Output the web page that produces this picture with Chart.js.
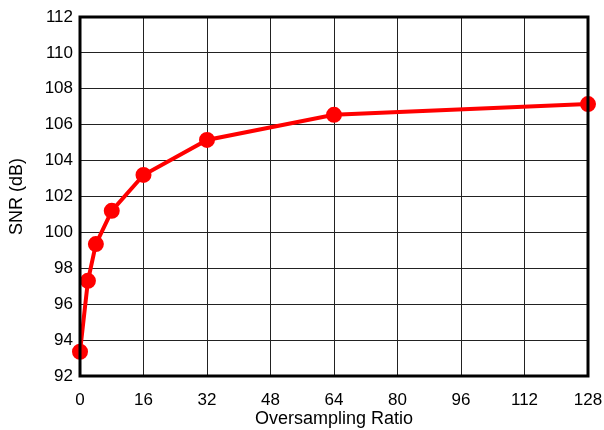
<!DOCTYPE html>
<html>
<head>
<meta charset="utf-8">
<script src="https://cdn.jsdelivr.net/npm/chart.js@4/dist/chart.umd.min.js"></script>
<style>
html,body{margin:0;padding:0;background:#fff;}
#wrap{width:604px;height:430px;position:relative;}
</style>
</head>
<body>
<div id="wrap"><canvas id="c"></canvas></div>
<script>
const ratios = [0, 2, 4, 8, 16, 32, 64, 128];
const snrValues = [93.35, 97.3, 99.35, 101.2, 103.2, 105.15, 106.55, 107.15];
const xTicks = [0, 16, 32, 48, 64, 80, 96, 112, 128];
const yTicks = [92, 94, 96, 98, 100, 102, 104, 106, 108, 110, 112];

const frame = {
  id: 'frame',
  afterDraw(chart) {
    const a = chart.chartArea, ctx = chart.ctx;
    ctx.save();
    ctx.strokeStyle = '#000';
    ctx.lineWidth = 3;
    ctx.strokeRect(a.left, a.top, a.right - a.left, a.bottom - a.top);
    ctx.restore();
  }
};

const tickFont = {family: 'Liberation Sans, Arial', size: 17};
const titleFont = {family: 'Liberation Sans, Arial', size: 18};

new Chart(document.getElementById('c'), {
  type: 'line',
  data: {
    datasets: [{
      data: ratios.map((r, i) => ({x: r, y: snrValues[i]})),
      borderColor: '#ff0000',
      backgroundColor: '#ff0000',
      borderWidth: 4,
      pointRadius: 6,
      pointHoverRadius: 6,
      tension: 0,
      clip: false
    }]
  },
  options: {
    responsive: true,
    maintainAspectRatio: false,
    animation: false,
    layout: {padding: {top: 17, right: 16, left: 0, bottom: 0}},
    plugins: {legend: {display: false}, tooltip: {enabled: false}},
    scales: {
      x: {
        type: 'linear', min: 0, max: 128,
        afterBuildTicks(s) { s.ticks = xTicks.map(v => ({value: v})); },
        afterFit(s) { s.height = 54; s.paddingLeft = 0; s.paddingRight = 0; },
        grid: {color: '#222', lineWidth: 1, drawTicks: false},
        border: {display: false},
        ticks: {color: '#000', font: tickFont, padding: 14, maxRotation: 0, autoSkip: false},
        title: {display: true, text: 'Oversampling Ratio', color: '#000', font: titleFont, padding: {top: 2, bottom: 0}}
      },
      y: {
        type: 'linear', min: 92, max: 112,
        afterBuildTicks(s) { s.ticks = yTicks.map(v => ({value: v})); },
        afterFit(s) { s.width = 80; s.paddingTop = 0; s.paddingBottom = 0; },
        grid: {color: '#222', lineWidth: 1, drawTicks: false},
        border: {display: false},
        ticks: {color: '#000', font: tickFont, padding: 7, autoSkip: false},
        title: {display: true, text: 'SNR (dB)', color: '#000', font: titleFont, padding: {top: 6, bottom: 0}}
      }
    }
  },
  plugins: [frame]
});
</script>
</body>
</html>
